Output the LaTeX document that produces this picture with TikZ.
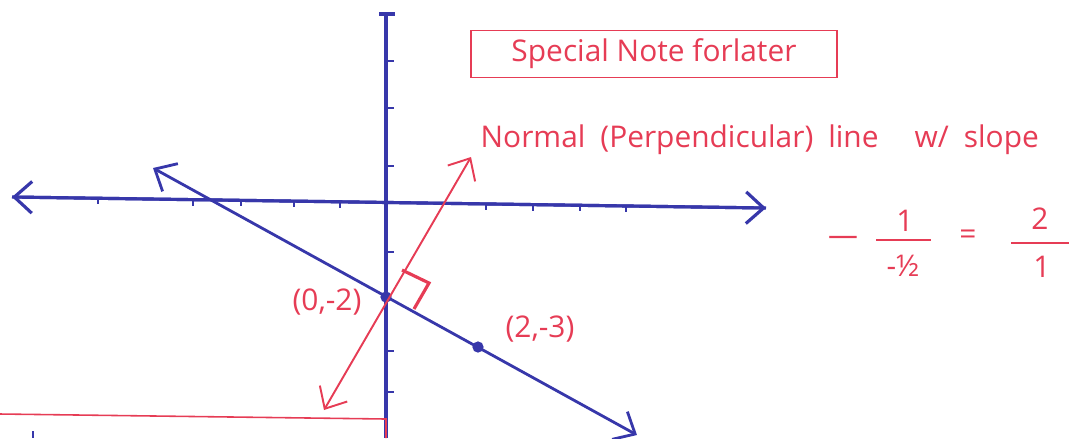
\documentclass[tikz,border=0pt]{standalone}
\usepackage{fontspec}
\setmainfont{Open Sans}
\usepackage{tikz}
\usetikzlibrary{arrows.meta, calc, positioning}
\definecolor{penblue}{RGB}{55,55,170}
\definecolor{penred}{RGB}{230,60,85}
\tikzset{
  axis/.style={color=penblue, line width=0.9pt},
  axisarrow/.style={axis, -{Straight Barb[length=5pt, width=9pt]}},
  tickmark/.style={color=penblue, line width=0.5pt},
  blueline/.style={color=penblue, line width=0.8pt,
    {Straight Barb[length=5pt, width=9pt]}-{Straight Barb[length=5pt, width=9pt]}},
  redline/.style={color=penred, line width=0.55pt,
    {Straight Barb[length=5pt, width=9pt]}-{Straight Barb[length=5pt, width=9pt]}},
  redmark/.style={color=penred, line width=0.9pt},
  fracbar/.style={color=penred, line width=0.5pt},
  note/.style={text=penred, font=\fontsize{8.5}{10}\selectfont, inner sep=0pt},
  notebox/.style={note, draw=penred, line width=0.45pt,
    minimum width=3.66cm, minimum height=0.47cm},
  dot/.style={circle, fill=penblue, inner sep=0pt, minimum size=3.2pt}
}

\begin{document}
\begin{tikzpicture}[x=0.01cm, y=-0.01cm]
  \useasboundingbox (0,0) rectangle (1084,438);

  % axes (hand drawn, x-axis a little tilted)
  \coordinate (xl) at (12,197);
  \coordinate (xr) at (766,208);
  \coordinate (ytop) at (386,14);
  \coordinate (ybot) at (386,438);
  \draw[axisarrow] (xr) -- (xl);
  \draw[axisarrow] (xl) -- (xr);
  \draw[axis] (ytop) -- (ybot);
  \draw[axis] (379,14) -- (395,14);

  % tick marks
  \foreach \t in {98, 193, 241, 294, 340, 486, 533, 580, 626} {
    \draw[tickmark] ($(xl)!{(\t-12)/754}!(xr)$) -- ++(0,6);
  }
  \foreach \s in {61, 108, 166, 252, 351, 392} {
    \draw[tickmark] (386,\s) -- ++(8,0);
  }
  \draw[tickmark] (33,431) -- (33,438);

  % the line through (0,-2) and (2,-3)
  \node[dot] (yint) at (386,297) {};
  \node[dot] (pt) at (478,347) {};
  \coordinate (bl) at (153,168);
  \coordinate (br) at (637,435);
  \draw[blueline] (bl) -- (br);

  % normal line
  \coordinate (rt) at (471,157);
  \coordinate (rb) at (324,410);
  \draw[redline] (rb) -- (rt);
  \draw[redmark] (402,270) -- (429,283) -- (414,309);

  \node[note] (lbla) at (327,302) {(0,-2)};
  \node[note] (lblb) at (540,329) {(2,-3)};

  % red line along the bottom
  \draw[color=penred, line width=0.45pt] (0,414) -- (386,419) -- (ybot);

  % notes
  \node[notebox] (title) at (654,54) {Special Note forlater};
  \node[note, anchor=west] (normal) at (480,140) {Normal\enspace(Perpendicular)\enspace line};
  \node[note, anchor=west] (slope) at (914,140) {w/\enspace slope};

  % slope of the normal
  \node[note] (neg) at (843,241) {—};
  \node[note] (numa) at (905,221) {1};
  \node[note] (dena) at (903,266) {-½};
  \node[note] (eq) at (968,237) {=};
  \node[note] (numb) at (1040,219) {2};
  \node[note] (denb) at (1042,267) {1};
  \draw[fracbar] (876,240) -- (931,240);
  \draw[fracbar] (1011,243) -- (1069,243);
\end{tikzpicture}
\end{document}
